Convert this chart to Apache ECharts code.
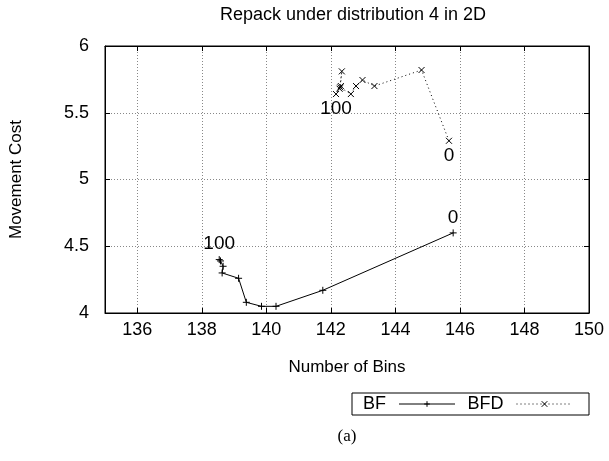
<!DOCTYPE html>
<html>
<head>
<meta charset="utf-8">
<script src="https://cdn.jsdelivr.net/npm/echarts@6/dist/echarts.min.js"></script>
<style>html,body{margin:0;padding:0;background:#fff}#c{width:609px;height:461px}</style>
</head>
<body>
<div id="c"></div>
<script>
const titleText = 'Repack under distribution 4 in 2D';
const xName = 'Number of Bins';
const yName = 'Movement Cost';
const caption = '(a)';
const seriesNames = ['BF', 'BFD'];
const bfX = [145.79, 141.75, 140.30, 139.85, 139.38, 139.14, 138.63, 138.66, 138.58, 138.54];
const bfY = [4.60, 4.17, 4.05, 4.05, 4.08, 4.26, 4.30, 4.35, 4.39, 4.40];
const bfdX = [145.66, 144.81, 143.35, 142.98, 142.78, 142.62, 142.29, 142.34, 142.27, 142.31, 142.16];
const bfdY = [5.29, 5.82, 5.70, 5.745, 5.70, 5.64, 5.69, 5.81, 5.68, 5.70, 5.64];
const endLabels = ['0', '100'];
const xMin = 135, xMax = 150;
const yMin = 4, yMax = 6, yStep = 0.5;

const FONT = 'Liberation Sans';
const plusPath = 'path://M0,5L10,5M5,0L5,10';
const crossPath = 'path://M0,0L10,10M0,10L10,0';

function build(xs, ys, pos) {
  return xs.map((x, i) => {
    const item = { value: [x, ys[i]] };
    if (i === 0 || i === xs.length - 1) {
      item.label = {
        show: true,
        formatter: i === 0 ? endLabels[0] : endLabels[1],
        position: pos[i === 0 ? 0 : 1],
        distance: 2,
        color: '#000',
        fontFamily: FONT,
        fontSize: 19
      };
    }
    return item;
  });
}

const chart = echarts.init(document.getElementById('c'), null, { renderer: 'canvas' });
const axisCommon = {
  axisLine: { show: true, lineStyle: { color: '#000', width: 1 } },
  axisTick: { show: true, inside: true, length: 5, lineStyle: { color: '#000' } }
};
chart.setOption({
  animation: false,
  title: {
    text: titleText, left: 348, top: 1, textAlign: 'center',
    textStyle: { fontFamily: FONT, fontSize: 18, fontWeight: 'normal', color: '#000' }
  },
  grid: { left: 104, right: 20, top: 46, bottom: 148, show: true, borderColor: '#000', borderWidth: 1 },
  legend: {
    data: seriesNames,
    left: 352, top: 393,
    align: 'right',
    itemWidth: 56, itemHeight: 7, itemGap: 12,
    padding: [2, 16, 2, 11],
    borderColor: '#000', borderWidth: 1, borderRadius: 0,
    lineStyle: { width: 1 },
    itemStyle: { borderWidth: 1 },
    textStyle: { fontFamily: FONT, fontSize: 18, color: '#000', padding: [0, 8, 0, 0] }
  },
  xAxis: [{
    type: 'value', min: xMin, max: xMax, splitNumber: 7,
    name: xName, nameLocation: 'middle', nameGap: 46,
    nameTextStyle: { fontFamily: FONT, fontSize: 17, color: '#000' },
    axisLabel: { showMinLabel: false, fontFamily: FONT, fontSize: 18, color: '#000', margin: 8 },
    splitLine: { show: true, lineStyle: { color: '#888', type: [1, 2] } },
    ...axisCommon
  }, {
    type: 'value', min: xMin, max: xMax, splitNumber: 7, position: 'top',
    axisLabel: { show: false }, splitLine: { show: false },
    ...axisCommon
  }],
  yAxis: [{
    type: 'value', min: yMin, max: yMax, interval: yStep,
    name: yName, nameLocation: 'middle', nameGap: 80, nameRotate: 90,
    nameTextStyle: { fontFamily: FONT, fontSize: 17, color: '#000' },
    axisLabel: { fontFamily: FONT, fontSize: 18, color: '#000', margin: 16 },
    splitLine: { show: true, lineStyle: { color: '#888', type: [1, 2] } },
    ...axisCommon
  }, {
    type: 'value', min: yMin, max: yMax, interval: yStep, position: 'right',
    axisLabel: { show: false }, splitLine: { show: false },
    ...axisCommon
  }],
  series: [{
    name: seriesNames[0], type: 'line',
    data: build(bfX, bfY, ['top', 'top']),
    symbol: plusPath, symbolSize: 7, symbolKeepAspect: true,
    lineStyle: { color: '#000', width: 1 },
    itemStyle: { color: '#000', borderColor: '#000', borderWidth: 1 },
    z: 3
  }, {
    name: seriesNames[1], type: 'line',
    data: build(bfdX, bfdY, ['bottom', 'bottom']),
    symbol: crossPath, symbolSize: 6, symbolKeepAspect: true,
    lineStyle: { color: '#000', width: 1, type: [1, 3] },
    itemStyle: { color: '#000', borderColor: '#000', borderWidth: 1 },
    z: 3
  }],
  graphic: [{
    type: 'text', x: 347, y: 428,
    style: { text: caption, font: '17px "Liberation Serif"', fill: '#000', textAlign: 'center' }
  }]
});
</script>
</body>
</html>
